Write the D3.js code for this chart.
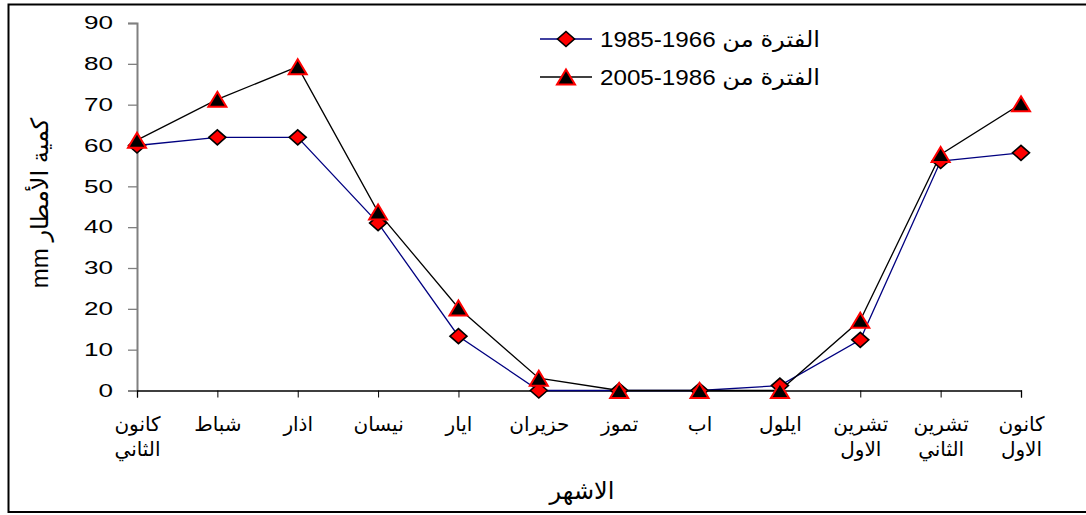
<!DOCTYPE html>
<html><head><meta charset="utf-8">
<script src="https://cdn.jsdelivr.net/npm/d3@7"></script>
<style>
html,body{margin:0;padding:0;background:#fff;}
svg{display:block;font-family:Arial,"Liberation Sans","DejaVu Sans",sans-serif;}
</style></head>
<body>
<svg id="chart" width="1086" height="515"></svg>
<script>
const months = ["كانون الثاني","شباط","اذار","نيسان","ايار","حزيران","تموز","اب","ايلول","تشرين الاول","تشرين الثاني","كانون الاول"];
const series1 = [60, 62, 62, 41, 13.3, 0, 0, 0, 1.2, 12.4, 56.2, 58.2];
const series2 = [61.3, 71.3, 79.3, 43.7, 20.2, 3, 0, 0, 0, 17.2, 57.8, 70.2];
const seriesNames = ["1985-1966 الفترة من", "2005-1986 الفترة من"];
const yTicks = [0,10,20,30,40,50,60,70,80,90];
const yTitle = "كمية الأمطار mm";
const xTitle = "الاشهر";

const svg = d3.select("#chart");
svg.append("rect").attr("x",8.5).attr("y",4.5).attr("width",1090).attr("height",507.5)
  .attr("fill","#fff").attr("stroke","#000").attr("stroke-width",2);

const x = d3.scalePoint().domain(months).range([137,1021]);
const y = d3.scaleLinear().domain([0,90]).range([390.5,23]);

// y axis
const ya = svg.append("g").attr("transform","translate(137,0)")
  .call(d3.axisLeft(y).tickValues(yTicks).tickSize(9).tickPadding(15));
ya.select(".domain").attr("stroke","#808080").attr("stroke-width",2);
ya.selectAll(".tick line").attr("stroke","#808080").attr("stroke-width",1.3);
ya.selectAll(".tick text").attr("font-size",18).attr("fill","#000")
  .attr("font-family","Arial,'Liberation Sans',sans-serif")
  .attr("x",0).attr("transform","translate(-24,0) scale(1.45,1)");

// x axis
const xa = svg.append("g").attr("transform","translate(0,390.5)")
  .call(d3.axisBottom(x).tickSize(7).tickFormat(""));
xa.select(".domain").attr("stroke","#000").attr("stroke-width",1.3);
xa.selectAll(".tick line").attr("stroke","#000").attr("stroke-width",1);
xa.selectAll(".tick text").remove();
xa.selectAll(".tick").each(function(d){
  const parts = d.split(" ");
  const t = d3.select(this).append("text").attr("fill","#000").attr("font-size",20)
    .attr("text-anchor","middle").attr("font-family","Arial,'DejaVu Sans',sans-serif");
  parts.forEach((p,i)=>{
    t.append("tspan").attr("x",0).attr("y",40 + i*25).text(p);
  });
});

// lines
const line = d3.line().x((d,i)=>x(months[i])).y(d=>y(d));
svg.append("path").datum(series1).attr("d",line).attr("fill","none").attr("stroke","#000080").attr("stroke-width",1.3);
svg.append("path").datum(series2).attr("d",line).attr("fill","none").attr("stroke","#000").attr("stroke-width",1.3);

const diamond = {draw(ctx,size){const w=8.5,h=7.5;ctx.moveTo(0,-h);ctx.lineTo(w,0);ctx.lineTo(0,h);ctx.lineTo(-w,0);ctx.closePath();}};
const triangle = {draw(ctx,size){const w=9,h=7.5;ctx.moveTo(0,-h);ctx.lineTo(w,h);ctx.lineTo(-w,h);ctx.closePath();}};

function drawMarkers(data,type,fill,stroke,sw){
  svg.append("g").selectAll("path").data(data).join("path")
    .attr("d",d3.symbol().type(type)())
    .attr("transform",(d,i)=>`translate(${x(months[i])},${y(d)})`)
    .attr("fill",fill).attr("stroke",stroke).attr("stroke-width",sw).attr("stroke-linejoin","miter");
}
drawMarkers(series1,diamond,"#ff0000","#000",1.6);
drawMarkers(series2,triangle,"#000","#ff0000",2);

// legend
const leg = svg.append("g");
const legRows = [{name:seriesNames[0],color:"#000080",type:diamond,fill:"#ff0000",stroke:"#000",sw:1.6,yy:39},
                 {name:seriesNames[1],color:"#000",type:triangle,fill:"#000",stroke:"#ff0000",sw:2,yy:77}];
legRows.forEach(r=>{
  leg.append("line").attr("x1",540).attr("x2",592).attr("y1",r.yy).attr("y2",r.yy).attr("stroke",r.color).attr("stroke-width",1.3);
  leg.append("path").attr("d",d3.symbol().type(r.type)()).attr("transform",`translate(566,${r.yy})`)
    .attr("fill",r.fill).attr("stroke",r.stroke).attr("stroke-width",r.sw);
  leg.append("text").attr("x",0).attr("y",0).attr("dy","0.35em").attr("font-size",22).attr("fill","#000")
    .attr("transform",`translate(600,${r.yy}) scale(1.1,1)`).text(r.name);
});

// titles
svg.append("text").attr("transform","translate(48,203) rotate(-90)").attr("text-anchor","middle")
  .attr("font-size",24).attr("fill","#000").attr("direction","rtl").style("unicode-bidi","embed").text(yTitle);
svg.append("text").attr("x",582).attr("y",499).attr("text-anchor","middle").attr("font-size",24).attr("fill","#000").text(xTitle);
</script>
</body></html>
